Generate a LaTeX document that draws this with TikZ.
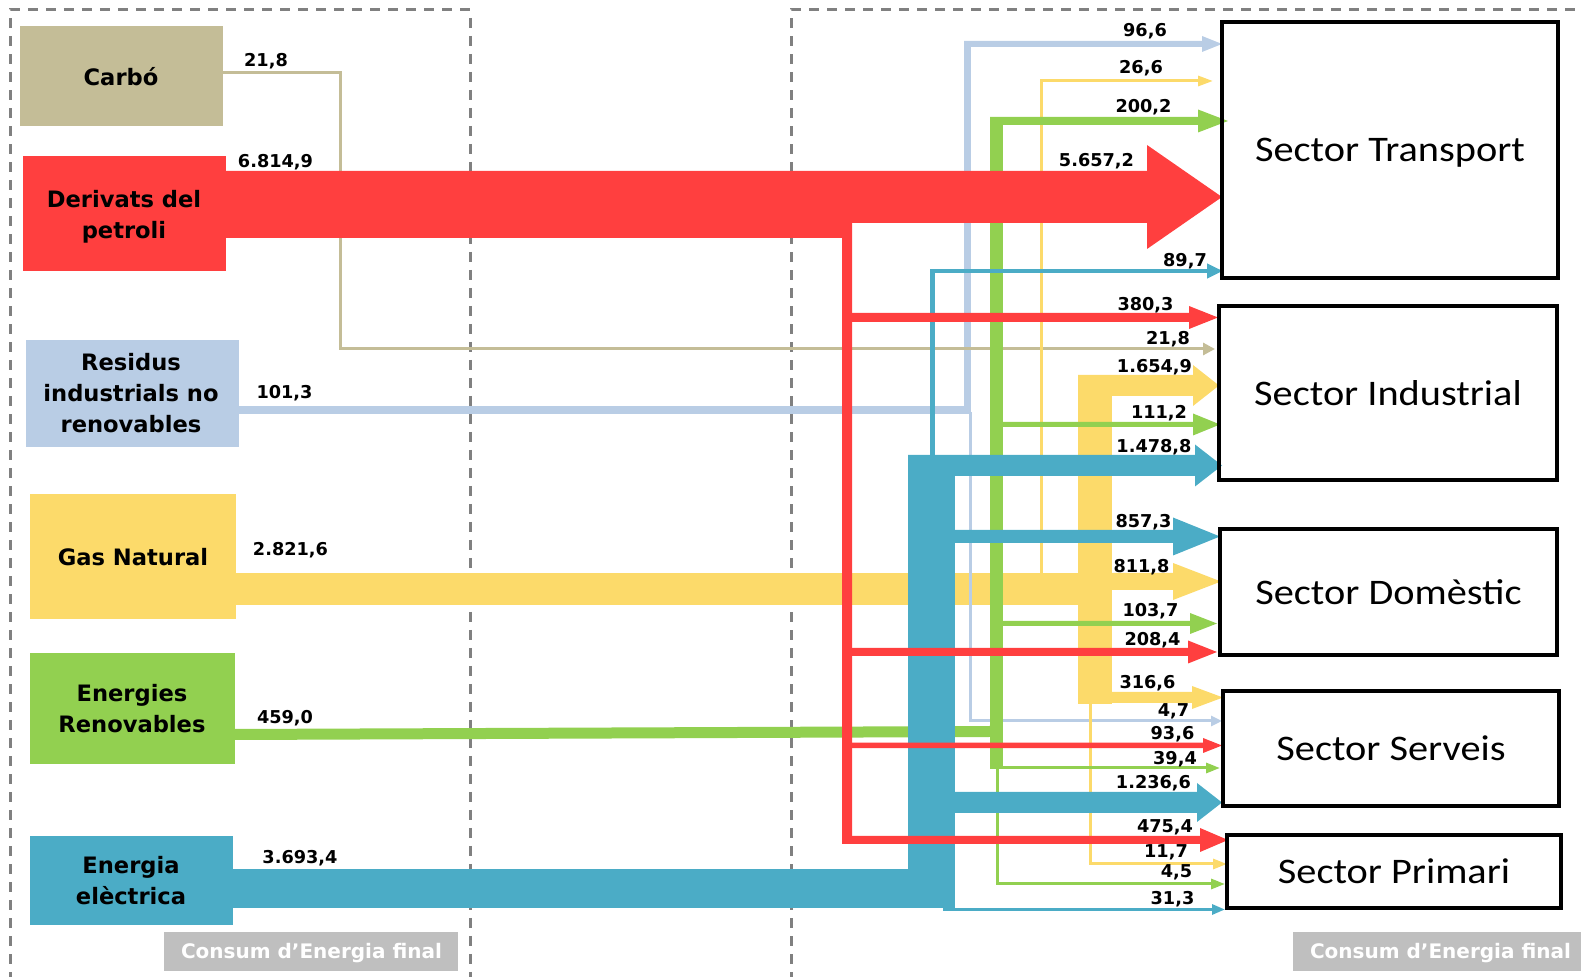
\documentclass[tikz,border=0pt]{standalone}
\usepackage{fontspec}
\setmainfont{DejaVu Sans}
\newfontfamily\secfont[FakeStretch=1.12]{Carlito}
\usetikzlibrary{arrows.meta}
\definecolor{cTan}{HTML}{C4BD97}
\definecolor{cRed}{HTML}{FF3F3F}
\definecolor{cLB}{HTML}{B9CDE5}
\definecolor{cYel}{HTML}{FCDA6A}
\definecolor{cGrn}{HTML}{92D050}
\definecolor{cTeal}{HTML}{4BACC6}
\definecolor{cTag}{HTML}{BFBFBF}
\definecolor{cDash}{HTML}{808080}
\newcommand\farrow[7]{% colour, x0, yc, half, head x, head half, tip x
  \fill[#1] (#2,#3-#4) -- (#5,#3-#4) -- (#5,#3-#6) -- (#7,#3) -- (#5,#3+#6) -- (#5,#3+#4) -- (#2,#3+#4) -- cycle;}
\begin{document}
\begin{tikzpicture}[x=0.5pt,y=-0.5pt,
  srcbox/.style={inner sep=0, outer sep=0},
  srctext/.style={inner sep=0, align=center, font=\bfseries\fontsize{11.3}{15.5}\selectfont},
  val/.style={anchor=base, inner sep=0, font=\bfseries\fontsize{8.85}{10}\selectfont},
  sector/.style={draw=black, line width=2pt, inner sep=0, text depth=0pt, font=\secfont\fontsize{18}{20}\selectfont},
  tagtext/.style={inner sep=0, text=white, font=\bfseries\fontsize{10}{11}\selectfont},
  thin/.style={line width=1.5pt},
  dashbox/.style={draw=cDash, line width=1.5pt, dash pattern=on 5pt off 4pt}]
\useasboundingbox (0,0) rectangle (1581,977);
% dashed frames
\draw[dashbox] (10,1000) -- (10,10) -- (470,10) -- (470,1000);
\draw[dashbox] (791,1000) -- (791,10) -- (1600,10);
% tags
\node[fill=cTag, minimum width=147pt, minimum height=19.5pt, inner sep=0] (tagL) at (311,951.5) {};
\node[tagtext] (tagLt) at (311.5,953) {Consum d’Energia final};
\fill[cTag] (1293,932) rectangle (1600,971);
\node[tagtext] (tagRt) at (1440.5,953) {Consum d’Energia final};
% source boxes
\node[srcbox, fill=cTan, minimum width=101.5pt, minimum height=50pt] (carbo) at (121.5,76) {};
\node[srcbox, fill=cRed, minimum width=101.5pt, minimum height=57.5pt] (petroli) at (124.5,213.5) {};
\node[srcbox, fill=cLB, minimum width=106.5pt, minimum height=53.5pt] (residus) at (132.5,393.5) {};
\node[srcbox, fill=cYel, minimum width=103pt, minimum height=62.5pt] (gas) at (133,556.5) {};
\node[srcbox, fill=cGrn, minimum width=102.5pt, minimum height=55.5pt] (renov) at (132.5,708.5) {};
\node[srcbox, fill=cTeal, minimum width=101.5pt, minimum height=44.5pt] (elec) at (131.5,880.5) {};
\node[srctext] (carboT) at (121,77) {Carbó};
\node[srctext] (petroliT) at (124,217) {Derivats del\\petroli};
\node[srctext] (residusT) at (131,393) {Residus\\industrials no\\renovables};
\node[srctext] (gasT) at (133,557) {Gas Natural};
\node[srctext] (renovT) at (132,709) {Energies\\Renovables};
\node[srctext] (elecT) at (131,881) {Energia\\elèctrica};
% ---- yellow main band
\fill[cYel] (236,573) rectangle (1078,605);
\fill[cYel] (1078,375) rectangle (1112,704);
\farrow{cYel}{1078}{385.5}{10.5}{1193}{20.5}{1219}
\farrow{cYel}{1112}{581.5}{8.5}{1173}{18.5}{1221}
\farrow{cYel}{1112}{697.5}{5.5}{1192}{11.5}{1223}
% ---- light blue
\fill[cLB] (239,406) rectangle (971,414);
\fill[cLB] (964,41) rectangle (971,414);
\farrow{cLB}{964}{44}{3}{1202}{8}{1222}
\draw[cLB, thin, -{Triangle[length=5.5pt,width=5pt]}] (970.5,412) -- (970.5,721) -- (1222,721);
% ---- tan
\draw[cTan, thin, -{Triangle[length=6pt,width=6pt]}] (223,73) -- (340.5,73) -- (340.5,349) -- (1215,349);
% ---- yellow thin
\draw[cYel, thin, -{Triangle[length=7.5pt,width=5pt]}] (1041,574) -- (1041,81) -- (1213,81);
\draw[cYel, thin, -{Triangle[length=7pt,width=5pt]}] (1090,703) -- (1090,864) -- (1227,864);
% ---- green
\fill[cGrn] (235,729) -- (990,726) -- (990,737) -- (235,740) -- cycle;
\fill[cGrn] (990,117) rectangle (1003,769);
\farrow{cGrn}{990}{121}{4}{1198}{11.5}{1228}
\farrow{cGrn}{1003}{424.5}{2.5}{1193}{11}{1220}
\farrow{cGrn}{1003}{623.5}{2.5}{1190}{10.5}{1217}
\draw[cGrn, thin, -{Triangle[length=7pt,width=5pt]}] (1002,768) -- (1220,768);
\draw[cGrn, thin, -{Triangle[length=7pt,width=5pt]}] (997.5,768) -- (997.5,884) -- (1225,884);
% ---- teal
\draw[cTeal, line width=2.25pt, -{Triangle[length=8pt,width=7pt]}] (932.5,456) -- (932.5,271) -- (1223,271);
\fill[cTeal] (233,869) rectangle (955,908);
\fill[cTeal] (908,455) rectangle (955,908);
\farrow{cTeal}{908}{465.5}{10.5}{1195}{21}{1222}
\farrow{cTeal}{955}{536.5}{6.5}{1173}{19}{1220}
\farrow{cTeal}{955}{802.5}{10.5}{1197}{19.5}{1222}
\draw[cTeal, thin, -{Triangle[length=6.5pt,width=5pt]}] (943,909.5) -- (1225,909.5);
% ---- red
\fill[cRed] (226,171) -- (1147,171) -- (1147,145) -- (1222,197) -- (1147,249) -- (1147,223)
  -- (852,223) -- (852,844) -- (842,844) -- (842,238) -- (226,238) -- cycle;
\farrow{cRed}{852}{317.5}{4.5}{1189}{11.5}{1218}
\farrow{cRed}{852}{652}{4}{1188}{11.5}{1217}
\farrow{cRed}{852}{745.5}{2.75}{1203}{7.5}{1222}
\farrow{cRed}{852}{840}{4}{1200}{12}{1228}
% ---- sector boxes
\node[sector, minimum width=168pt, minimum height=128pt] (transport) at (1390,150) {Sector Transport};
\node[sector, minimum width=169pt, minimum height=87pt] (industrial) at (1388,393) {Sector Industrial};
\node[sector, minimum width=168.5pt, minimum height=63pt] (domestic) at (1388.5,592) {Sector Domèstic};
\node[sector, minimum width=168pt, minimum height=57.5pt] (serveis) at (1391,748.5) {Sector Serveis};
\node[sector, minimum width=167pt, minimum height=36.5pt] (primari) at (1394,871.5) {Sector Primari};
% ---- values left
\node[val] (l1) at (266,67) {21,8};
\node[val] (l2) at (275.5,168) {6.814,9};
\node[val] (l3) at (284.5,399) {101,3};
\node[val] (l4) at (290.5,556) {2.821,6};
\node[val] (l5) at (285,724) {459,0};
\node[val] (l6) at (300,864) {3.693,4};
% ---- values right
\node[val] (r1) at (1145,37) {96,6};
\node[val] (r2) at (1141,74) {26,6};
\node[val] (r3) at (1143.5,113) {200,2};
\node[val] (r4) at (1096.5,167) {5.657,2};
\node[val] (r5) at (1185,267) {89,7};
\node[val] (r6) at (1145.5,311) {380,3};
\node[val] (r7) at (1168,345) {21,8};
\node[val] (r8) at (1154.5,373) {1.654,9};
\node[val] (r9) at (1159,419) {111,2};
\node[val] (r10) at (1154,453) {1.478,8};
\node[val] (r11) at (1143.5,528) {857,3};
\node[val] (r12) at (1141.5,573) {811,8};
\node[val] (r13) at (1150.5,617) {103,7};
\node[val] (r14) at (1152.5,646) {208,4};
\node[val] (r15) at (1147.5,689) {316,6};
\node[val] (r16) at (1173.5,717) {4,7};
\node[val] (r17) at (1172.5,740) {93,6};
\node[val] (r18) at (1175,765) {39,4};
\node[val] (r19) at (1153.5,789) {1.236,6};
\node[val] (r20) at (1165,833) {475,4};
\node[val] (r21) at (1166,858) {11,7};
\node[val] (r22) at (1176.5,878) {4,5};
\node[val] (r23) at (1172.5,905) {31,3};
\end{tikzpicture}
\end{document}
